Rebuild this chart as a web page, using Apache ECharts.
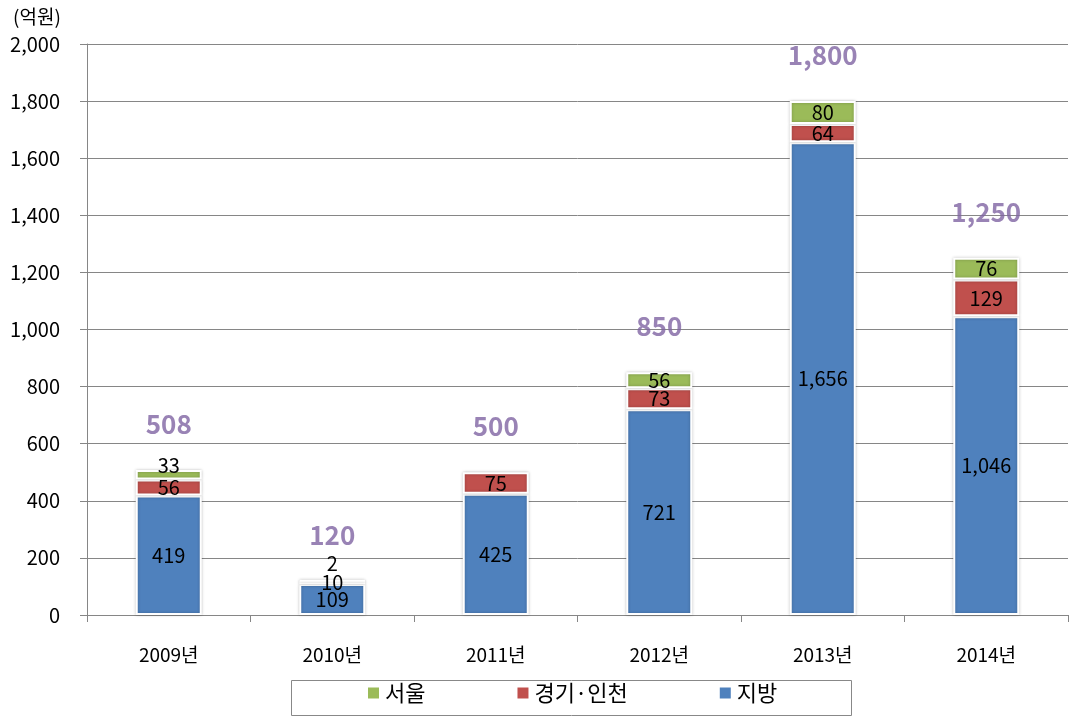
<!DOCTYPE html>
<html>
<head>
<meta charset="utf-8">
<script src="https://cdn.jsdelivr.net/npm/echarts@6/dist/echarts.min.js"></script>
<style>
  html, body { margin: 0; padding: 0; background: #fff; }
  #chart { width: 1078px; height: 724px; }
</style>
</head>
<body>
<div id="chart"></div>
<script>
// 연도별 데이터 (억원)
var years = ["2009년", "2010년", "2011년", "2012년", "2013년", "2014년"];
var local = [419, 109, 425, 721, 1656, 1046];   // 지방
var gyeonggi = [56, 10, 75, 73, 64, 129];        // 경기·인천
var seoul = [33, 2, null, 56, 80, 76];           // 서울
var totals = [508, 120, 500, 850, 1800, 1250];   // 합계

var FONT = '"Noto Sans CJK KR", "Noto Sans", sans-serif';

var chart = echarts.init(document.getElementById("chart"));

function barStyle(color) {
  return {
    color: color,
    borderColor: "#fff",
    borderWidth: 2,
    shadowColor: "rgba(0,0,0,0.25)",
    shadowBlur: 3
  };
}

function segLabel() {
  return {
    show: true,
    position: "inside",
    color: "#000",
    fontSize: 20,
    fontFamily: FONT,
    formatter: function (p) {
      return p.value == null ? "" : echarts.format.addCommas(p.value);
    }
  };
}

// 작은 값은 라벨을 위로 조금 올림 (엑셀처럼 겹침 회피)
var seoulData = seoul.map(function (v) {
  if (v != null && v < 5) {
    return { value: v, label: { offset: [0, -17] } };
  }
  if (v != null && v < 40) {
    return { value: v, label: { offset: [0, -9] } };
  }
  return v;
});

var options = {
  animation: false,
  title: {
    text: "(억원)",
    left: 8,
    top: 2,
    textStyle: { fontSize: 19, fontWeight: "normal", color: "#000", fontFamily: FONT }
  },
  grid: {
    left: 87,
    right: 10,
    top: 44,
    bottom: 109
  },
  legend: {
    data: ["서울", "경기·인천", "지방"],
    left: 366,
    top: 680,
    padding: [2, 0, 2, 0],
    itemGap: 90,
    itemWidth: 13,
    itemHeight: 13,
    icon: "rect",
    textStyle: { fontSize: 22, color: "#000", fontFamily: FONT }
  },
  graphic: [
    {
      type: "rect",
      left: 289,
      top: 678,
      shape: { width: 560, height: 35 },
      style: { fill: "none", stroke: "#888", lineWidth: 1 },
      silent: true
    }
  ],
  xAxis: {
    type: "category",
    data: years,
    axisLine: { show: true, lineStyle: { color: "#868686" } },
    axisTick: { show: true, length: 7, lineStyle: { color: "#868686" } },
    axisLabel: { fontSize: 19, color: "#000", margin: 30, fontFamily: FONT }
  },
  yAxis: {
    type: "value",
    min: 0,
    max: 2000,
    interval: 200,
    axisLine: { show: true, lineStyle: { color: "#868686" } },
    axisTick: { show: true, length: 7, inside: false, lineStyle: { color: "#868686" } },
    splitLine: { show: true, lineStyle: { color: "#868686" } },
    axisLabel: {
      fontSize: 20,
      color: "#000",
      margin: 27,
      fontFamily: FONT,
      formatter: function (v) { return echarts.format.addCommas(v); }
    }
  },
  series: [
    {
      name: "지방",
      type: "bar",
      stack: "total",
      barWidth: 66,
      itemStyle: barStyle("#4F81BD"),
      label: segLabel(),
      data: local
    },
    {
      name: "경기·인천",
      type: "bar",
      stack: "total",
      barWidth: 66,
      itemStyle: barStyle("#C0504D"),
      label: segLabel(),
      data: gyeonggi
    },
    {
      name: "서울",
      type: "bar",
      stack: "total",
      barWidth: 66,
      itemStyle: barStyle("#9BBB59"),
      label: segLabel(),
      data: seoulData
    },
    {
      name: "합계",
      type: "scatter",
      symbolSize: 0,
      silent: true,
      data: totals,
      label: {
        show: true,
        position: "top",
        distance: 33,
        color: "#8064A2",
        fontSize: 26,
        fontWeight: "bold",
        fontFamily: FONT,
        formatter: function (p) { return echarts.format.addCommas(p.value); }
      }
    }
  ]
};

chart.setOption(options);
</script>
</body>
</html>
